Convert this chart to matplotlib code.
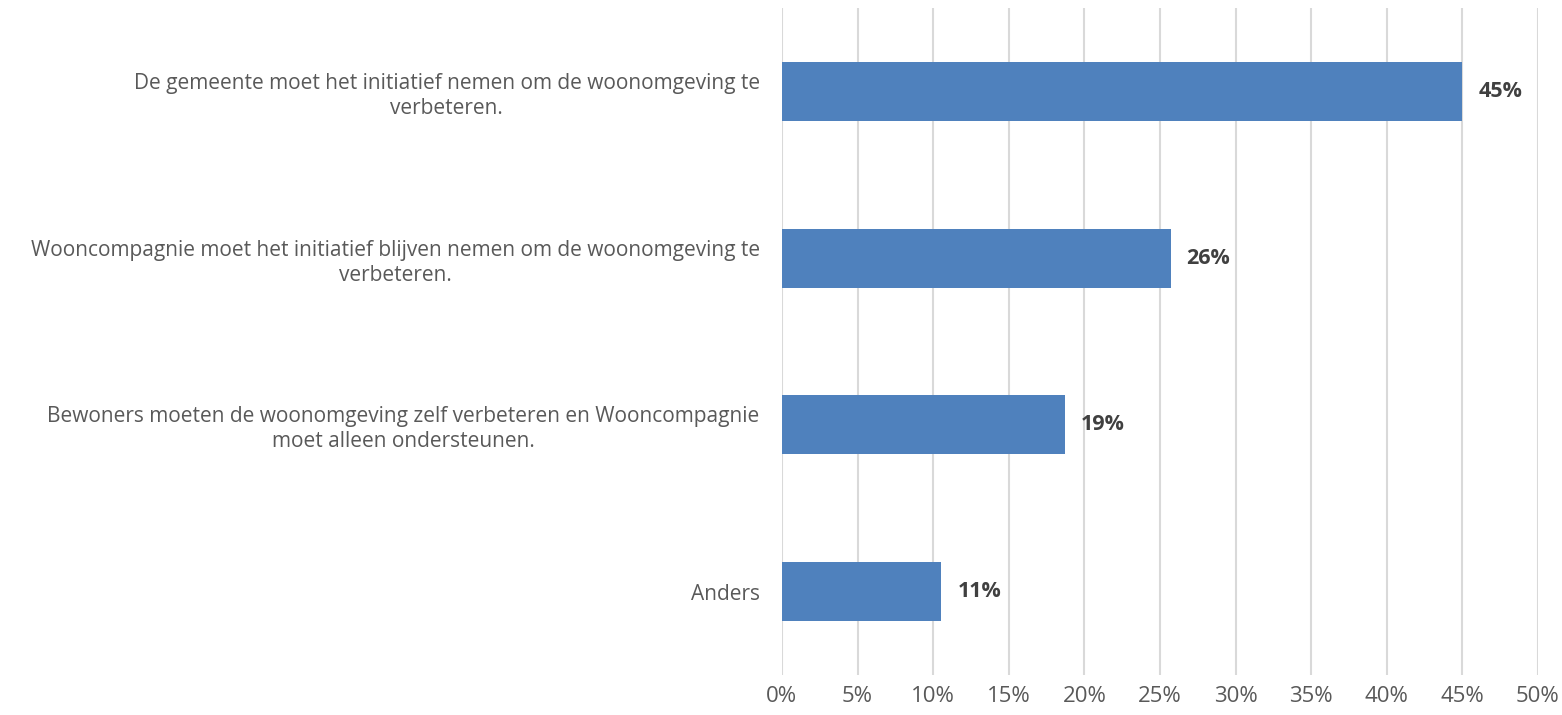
import matplotlib.pyplot as plt
import numpy as np

plt.rcParams['font.family'] = ['Open Sans', 'DejaVu Sans']

categories = [
    "De gemeente moet het initiatief nemen om de woonomgeving te\nverbeteren.",
    "Wooncompagnie moet het initiatief blijven nemen om de woonomgeving te\nverbeteren.",
    "Bewoners moeten de woonomgeving zelf verbeteren en Wooncompagnie\nmoet alleen ondersteunen.",
    "Anders",
]
values = [45.0, 25.7, 18.7, 10.55]
xticks = [0, 5, 10, 15, 20, 25, 30, 35, 40, 45, 50]

fig = plt.figure(figsize=(15.62, 7.15), dpi=100)
ax = fig.add_axes([0.5006, 0.056, 0.4840, 0.933])

ypos = np.arange(len(categories))
ax.barh(ypos, values, height=0.354, color='#4F81BD', zorder=3)

for y, v in zip(ypos, values):
    ax.annotate(f"{v:.0f}%", (v, y), xytext=(11.5, 0), textcoords='offset points',
                ha='left', va='center', fontsize=15.5, fontweight='bold', color='#404040')

ax.set_ylim(len(categories) - 0.5, -0.5)
ax.set_xlim(0, 50)
ax.set_yticks(ypos)
ax.set_yticklabels(categories, multialignment='center', linespacing=1.25)
ax.set_xticks(xticks)
ax.set_xticklabels([f"{t}%" for t in xticks])
ax.tick_params(axis='y', length=0, pad=16, labelsize=15, labelcolor='#595959')
ax.tick_params(axis='x', length=0, pad=8, labelsize=16, labelcolor='#595959')

ax.grid(axis='x', color='#D9D9D9', linewidth=1.5, zorder=0)
for s in ax.spines.values():
    s.set_visible(False)

fig.savefig('out.png', dpi=100)
